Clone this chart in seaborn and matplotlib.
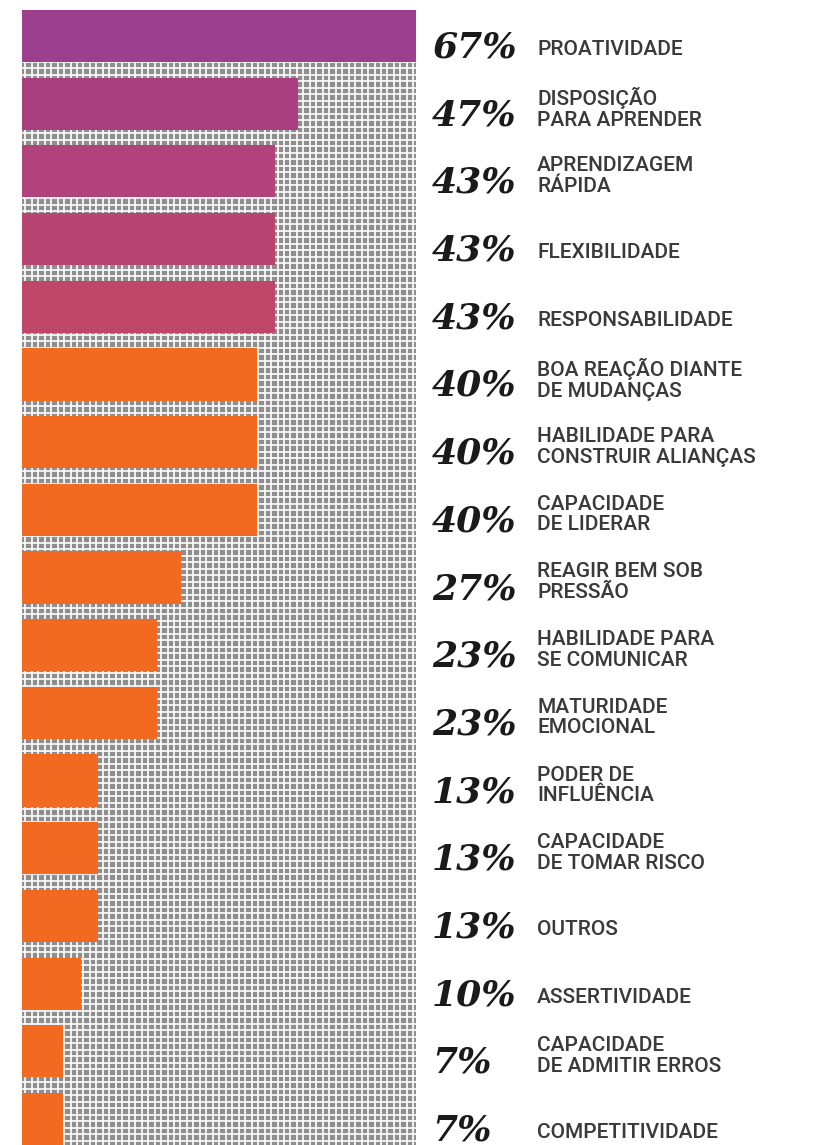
import numpy as np
import pandas as pd
import matplotlib.pyplot as plt
import matplotlib.transforms as mtransforms
import seaborn as sns

# dados do grafico
rotulos = ['PROATIVIDADE', 'DISPOSIÇÃO\nPARA APRENDER', 'APRENDIZAGEM\nRÁPIDA',
           'FLEXIBILIDADE', 'RESPONSABILIDADE', 'BOA REAÇÃO DIANTE\nDE MUDANÇAS',
           'HABILIDADE PARA\nCONSTRUIR ALIANÇAS', 'CAPACIDADE\nDE LIDERAR',
           'REAGIR BEM SOB\nPRESSÃO', 'HABILIDADE PARA\nSE COMUNICAR',
           'MATURIDADE\nEMOCIONAL', 'PODER DE\nINFLUÊNCIA', 'CAPACIDADE\nDE TOMAR RISCO',
           'OUTROS', 'ASSERTIVIDADE', 'CAPACIDADE\nDE ADMITIR ERROS', 'COMPETITIVIDADE']
percentuais = [67, 47, 43, 43, 43, 40, 40, 40, 27, 23, 23, 13, 13, 13, 10, 7, 7]
cores = ['#9c3f8e', '#a8407f', '#b1427a', '#b84472', '#c0466a'] + ['#f26a21'] * 12

dados = pd.DataFrame({'rotulo': rotulos, 'pct': percentuais})

fig = plt.figure(figsize=(8.13, 11.45), dpi=100)
ax = fig.add_axes([22 / 813, 0, 394 / 813, 1 - 10 / 1145])

# fundo quadriculado
ax.set_facecolor('#8e8e8e')
for xv in np.arange(0.55, 67, 1.1):
    ax.axvline(xv, color='white', lw=1.2, zorder=0.5)
for yv in np.arange(-0.385, 16.4, 0.096):
    ax.axhline(yv, color='white', lw=1.2, zorder=0.5)

sns.barplot(data=dados, x='pct', y='rotulo', hue='rotulo', palette=cores,
            legend=False, width=0.77, orient='h', ax=ax, zorder=2, saturation=1)

ax.set_xlim(0, 67)
ax.set_ylim(16.385, -0.385)
ax.set_xlabel('')
ax.set_ylabel('')
ax.set_xticks([])
ax.set_yticks([])
for s in ax.spines.values():
    s.set_visible(False)

trans = mtransforms.blended_transform_factory(fig.transFigure, ax.transData)
for i, (r, p) in enumerate(zip(rotulos, percentuais)):
    ax.text(432 / 813, i + 0.17, f'{p}%', transform=trans, ha='left', va='center',
            fontsize=26, fontstyle='italic', fontweight='bold', family='DejaVu Serif',
            color='#1a1a1a', clip_on=False)
    dy = 0.07 if '\n' in r else 0.2
    ax.text(537 / 813, i + dy, r, transform=trans, ha='left', va='center',
            fontsize=15, family=['Roboto', 'DejaVu Sans'], fontweight='medium',
            color='#3a3a3a', linespacing=1.1, clip_on=False)

plt.savefig('out.png', dpi=100)
